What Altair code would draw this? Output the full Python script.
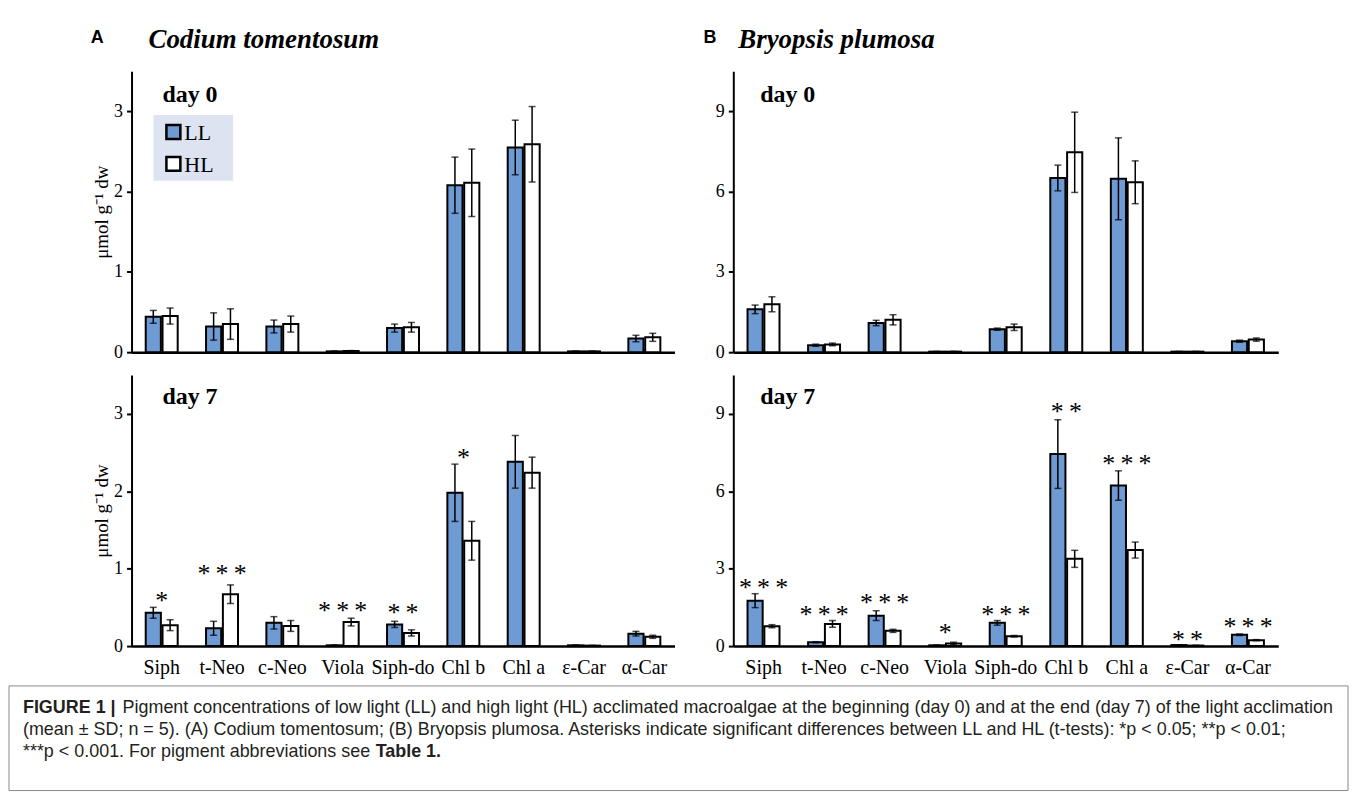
import altair as alt
import pandas as pd

SERIF = "Liberation Serif"
SANS = "Liberation Sans"
BLUE = "#6f9bd5"

pigments = ["Siph", "t-Neo", "c-Neo", "Viola", "Siph-do", "Chl b", "Chl a", "ε-Car", "α-Car"]
treatments = ["LL", "HL"]

# Codium tomentosum, day 0
a0_ll = [0.44, 0.32, 0.32, 0.01, 0.30, 2.08, 2.55, 0.01, 0.17]
a0_ll_sd = [0.08, 0.17, 0.08, 0.005, 0.05, 0.35, 0.34, 0.004, 0.04]
a0_hl = [0.45, 0.35, 0.35, 0.015, 0.31, 2.11, 2.59, 0.01, 0.185]
a0_hl_sd = [0.10, 0.19, 0.10, 0.005, 0.06, 0.42, 0.47, 0.004, 0.05]
# Codium tomentosum, day 7
a7_ll = [0.43, 0.23, 0.30, 0.01, 0.28, 1.98, 2.38, 0.01, 0.16]
a7_ll_sd = [0.07, 0.09, 0.08, 0.004, 0.04, 0.37, 0.34, 0.004, 0.03]
a7_hl = [0.27, 0.67, 0.26, 0.31, 0.17, 1.36, 2.24, 0.006, 0.12]
a7_hl_sd = [0.07, 0.12, 0.07, 0.05, 0.04, 0.25, 0.20, 0.003, 0.02]
a7_star_pig = ["Siph", "t-Neo", "Viola", "Siph-do", "Chl b"]
a7_star_txt = ["*", "***", "***", "**", "*"]
a7_star_lvl = [0.65, 0.99, 0.52, 0.49, 2.49]

# Bryopsis plumosa, day 0
b0_ll = [1.60, 0.26, 1.09, 0.02, 0.86, 6.51, 6.48, 0.02, 0.41]
b0_ll_sd = [0.16, 0.04, 0.10, 0.01, 0.04, 0.48, 1.53, 0.01, 0.04]
b0_hl = [1.79, 0.29, 1.21, 0.02, 0.93, 7.47, 6.35, 0.02, 0.47]
b0_hl_sd = [0.28, 0.05, 0.19, 0.01, 0.12, 1.50, 0.80, 0.01, 0.06]
# Bryopsis plumosa, day 7
b7_ll = [1.76, 0.15, 1.18, 0.03, 0.90, 7.44, 6.22, 0.04, 0.44]
b7_ll_sd = [0.27, 0.02, 0.19, 0.01, 0.09, 1.33, 0.57, 0.01, 0.03]
b7_hl = [0.77, 0.86, 0.59, 0.10, 0.38, 3.38, 3.72, 0.02, 0.23]
b7_hl_sd = [0.06, 0.13, 0.06, 0.05, 0.03, 0.33, 0.31, 0.01, 0.02]
b7_star_pig = ["Siph", "t-Neo", "c-Neo", "Viola", "Siph-do", "Chl b", "Chl a", "ε-Car", "α-Car"]
b7_star_txt = ["***", "***", "***", "*", "***", "**", "***", "**", "***"]
b7_star_lvl = [2.46, 1.41, 1.85, 0.69, 1.41, 9.26, 7.24, 0.44, 0.95]

a_ticks = [0, 1, 2, 3]
b_ticks = [0, 3, 6, 9]

caption_l1_bold = "FIGURE 1 |"
caption_l1 = ("Pigment concentrations of low light (LL) and high light (HL) acclimated macroalgae "
              "at the beginning (day 0) and at the end (day 7) of the light acclimation")
caption_l2 = ("(mean ± SD; n = 5). (A) Codium tomentosum; (B) Bryopsis plumosa. Asterisks indicate "
              "significant differences between LL and HL (t-tests): *p < 0.05; **p < 0.01;")
caption_l3 = "***p < 0.001. For pigment abbreviations see"
caption_l3_bold = "Table 1."


def make_df(ll, ll_sd, hl, hl_sd):
    rows = []
    for i, p in enumerate(pigments):
        for t, m, s in (("LL", ll[i], ll_sd[i]), ("HL", hl[i], hl_sd[i])):
            rows.append({"pigment": p, "trt": t, "mean": m, "lo": max(m - s, 0), "hi": m + s})
    return pd.DataFrame(rows)


def spaced(s):
    return "\u2009".join(s)


one = pd.DataFrame({"k": [0]})


def txt(x, y, s, font=SERIF, size=20, weight="normal", style="normal", color="black", align="left"):
    return alt.Chart(one).mark_text(font=font, fontSize=size, fontWeight=weight, fontStyle=style,
                                    color=color, align=align, baseline="alphabetic").encode(
        x=alt.value(x), y=alt.value(y), text=alt.value(s))


def panel(df, ymax, ticks, width, height, show_x, ytitle, day, stars=None, extras=()):
    xscale = alt.Scale(domain=pigments, paddingInner=0.47, paddingOuter=0.235)
    xaxis = alt.Axis(title=None, labels=show_x, ticks=False, tickSize=0, domainWidth=2.5,
                     domainColor="black", labelFont=SERIF, labelFontSize=20, labelColor="black",
                     labelPadding=12, labelAngle=0)
    yaxis = alt.Axis(title=ytitle if ytitle else None, values=ticks, format="d", grid=False,
                     domainWidth=2, domainColor="black", tickColor="black", tickWidth=2, tickSize=5,
                     labelFont=SERIF, labelFontSize=18, labelColor="black", labelPadding=4,
                     titleFont=SERIF, titleFontSize=19, titleFontWeight="normal", titleColor="black",
                     titlePadding=2)
    x = alt.X("pigment:N", sort=pigments, scale=xscale, axis=xaxis)
    xo = alt.XOffset("trt:N", sort=treatments, scale=alt.Scale(domain=treatments, paddingInner=0.1))
    base = alt.Chart(df)
    bars = base.mark_bar(stroke="black", strokeWidth=2).encode(
        x=x, xOffset=xo,
        y=alt.Y("mean:Q", scale=alt.Scale(domain=[0, ymax], nice=False, zero=True), axis=yaxis),
        fill=alt.Fill("trt:N", scale=alt.Scale(domain=treatments, range=[BLUE, "white"]), legend=None),
    )
    rules = base.mark_rule(color="black", strokeWidth=1.5).encode(x=x, xOffset=xo, y="lo:Q", y2="hi:Q")
    cap_hi = base.mark_tick(color="black", thickness=1.5, size=7).encode(x=x, xOffset=xo, y="hi:Q")
    cap_lo = base.mark_tick(color="black", thickness=1.5, size=7).encode(x=x, xOffset=xo, y="lo:Q")
    layers = [bars, rules, cap_hi, cap_lo]
    if stars is not None:
        sdf = pd.DataFrame({"pigment": stars[0], "s": [spaced(s) for s in stars[1]], "level": stars[2]})
        layers.append(alt.Chart(sdf).mark_text(font=SERIF, fontSize=26, color="black", dy=13,
                                               baseline="alphabetic").encode(
            x=x, y=alt.Y("level:Q"), text="s:N"))
    layers.append(txt(day[0], day[1], day[2], size=24, weight="bold"))
    layers.extend(extras)
    return alt.layer(*layers).properties(width=width, height=height)


WA, WB = 545, 547
H0, H7 = 282, 272

legend_layers = [
    alt.Chart(one).mark_rect(color="#dde3f1").encode(
        x=alt.value(22), x2=alt.value(102), y=alt.value(44), y2=alt.value(110)),
    alt.Chart(one).mark_rect(fill=BLUE, stroke="black", strokeWidth=2.5).encode(
        x=alt.value(35), x2=alt.value(49), y=alt.value(54), y2=alt.value(68)),
    alt.Chart(one).mark_rect(fill="white", stroke="black", strokeWidth=2.5).encode(
        x=alt.value(35), x2=alt.value(49), y=alt.value(86), y2=alt.value(100)),
    txt(53, 69, "LL", size=22),
    txt(53, 101, "HL", size=22),
]

header_a = [
    alt.Chart(one).mark_rule(strokeOpacity=0).encode(x=alt.value(0), x2=alt.value(1), y=alt.value(-62)),
    txt(-41, -28, "A", font=SANS, size=18, weight="bold"),
    txt(17, -23, "Codium tomentosum", size=27, weight="bold", style="italic"),
]
header_b = [
    txt(-30, -28, "B", font=SANS, size=18, weight="bold"),
    txt(5, -23, "Bryopsis plumosa", size=27, weight="bold", style="italic"),
]

# caption, drawn below panel A day 7 (relative to that panel's plot origin)
CX = -109
CS = 18
caption_layers = [
    alt.Chart(one).mark_rect(fillOpacity=0, stroke="#8a8a8a", strokeWidth=1).encode(
        x=alt.value(-123), x2=alt.value(1221), y=alt.value(312), y2=alt.value(417)),
    txt(CX, 339, caption_l1_bold, font=SANS, size=CS, weight="bold", color="#231f20"),
    txt(CX + 100, 339, caption_l1, font=SANS, size=CS, color="#231f20"),
    txt(CX, 361, caption_l2, font=SANS, size=CS, color="#231f20"),
    txt(CX, 383, caption_l3, font=SANS, size=CS, color="#231f20"),
    txt(CX + 354, 383, caption_l3_bold, font=SANS, size=CS, weight="bold", color="#231f20"),
]

A0 = panel(make_df(a0_ll, a0_ll_sd, a0_hl, a0_hl_sd), 3.5, a_ticks, WA, H0, False,
           "μmol g⁻¹ dw", (31, 31, "day 0"), extras=legend_layers + header_a)
A7 = panel(make_df(a7_ll, a7_ll_sd, a7_hl, a7_hl_sd), 3.5, a_ticks, WA, H7, True,
           "μmol g⁻¹ dw", (31, 29, "day 7"), stars=(a7_star_pig, a7_star_txt, a7_star_lvl),
           extras=caption_layers)
B0 = panel(make_df(b0_ll, b0_ll_sd, b0_hl, b0_hl_sd), 10.5, b_ticks, WB, H0, False,
           None, (27, 31, "day 0"), extras=header_b)
B7 = panel(make_df(b7_ll, b7_ll_sd, b7_hl, b7_hl_sd), 10.5, b_ticks, WB, H7, True,
           None, (27, 29, "day 7"), stars=(b7_star_pig, b7_star_txt, b7_star_lvl))

chart = alt.concat(A0, B0, A7, B7, columns=2, spacing={"row": 23, "column": 59},
                   bounds="flush").properties(padding=0, background="white").configure_view(
    stroke="transparent", strokeWidth=0)

chart.save("out.html", embed_options={"renderer": "svg", "actions": False})
